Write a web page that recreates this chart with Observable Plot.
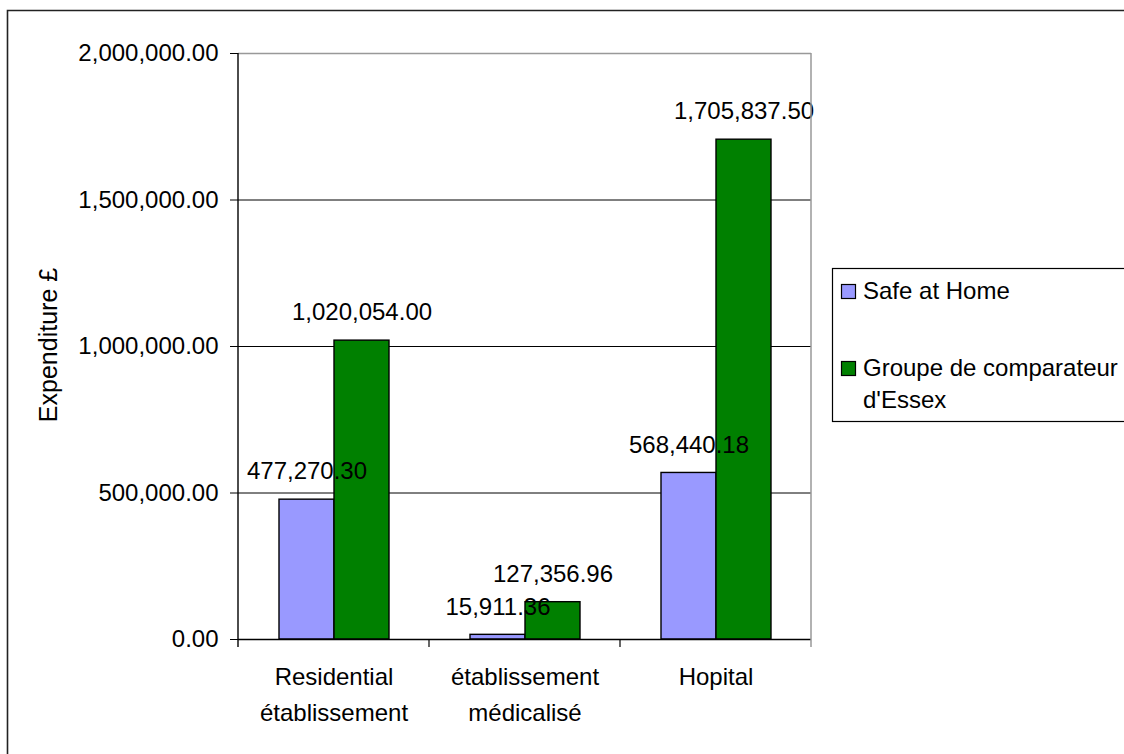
<!DOCTYPE html>
<html>
<head>
<meta charset="utf-8">
<script src="https://cdn.jsdelivr.net/npm/d3@7"></script>
<script src="https://cdn.jsdelivr.net/npm/@observablehq/plot@0.6"></script>
<style>
  html, body { margin: 0; padding: 0; background: white; }
  #chart { position: relative; width: 1124px; height: 754px; overflow: hidden; }
</style>
</head>
<body>
<div id="chart"></div>
<script>
// ---- data ----
const categories = ["Residential établissement", "établissement médicalisé", "Hopital"];
const categoryLabelLines = [["Residential", "établissement"], ["établissement", "médicalisé"], ["Hopital"]];
const series = ["Safe at Home", "Groupe de comparateur d'Essex"];
const legendLabelLines = [["Safe at Home"], ["Groupe de comparateur", "d'Essex"]];
const safeAtHome = [477270.30, 15911.36, 568440.18];
const groupeEssex = [1020054.00, 127356.96, 1705837.50];
const yTicks = [0, 500000, 1000000, 1500000, 2000000];
const gridTicks = [500000, 1000000, 1500000];
const yLabel = "Expenditure £";
const seriesColors = ["#9999ff", "#008000"];

// ---- table for Plot ----
const rows = [];
categories.forEach((c, i) => {
  rows.push({cat: c, series: series[0], value: safeAtHome[i]});
  rows.push({cat: c, series: series[1], value: groupeEssex[i]});
});
const fmt = d3.format(",.2f");
const catLabel = new Map(categories.map((c, i) => [c, categoryLabelLines[i].join("\n")]));

const W = 1124, H = 754;
const plot = Plot.plot({
  width: W,
  height: H,
  marginLeft: 237,
  marginRight: 313,
  marginTop: 53,
  marginBottom: 115,
  style: {fontSize: "24px", fontFamily: "'Liberation Sans', Arial, sans-serif", color: "black", background: "white", overflow: "visible"},
  fx: {domain: categories, padding: 0, label: null},
  x: {domain: series, paddingInner: 0, paddingOuter: 0.72, axis: null},
  y: {domain: [0, 2000000], label: null},
  color: {domain: series, range: seriesColors},
  marks: [
    Plot.ruleY(gridTicks, {stroke: "black", strokeWidth: 1}),
    Plot.ruleY([yTicks[yTicks.length - 1]], {stroke: "#999", strokeWidth: 1.5}),
    Plot.barY(rows, {fx: "cat", x: "series", y: "value", fill: "series", stroke: "black", strokeWidth: 1.4}),
    Plot.ruleY([0], {stroke: "black", strokeWidth: 1.4}),
    Plot.text(rows, {fx: "cat", x: "series", y: "value", text: d => fmt(d.value), dy: -28, lineAnchor: "middle", fill: "black"}),
    Plot.axisY({ticks: yTicks, tickFormat: fmt, tickSize: 8, tickPadding: 12, label: null, stroke: "black"}),
    Plot.axisFx({anchor: "bottom", tickSize: 0, tickPadding: 20, lineHeight: 1.5, tickFormat: d => catLabel.get(d), label: null})
  ]
});
document.getElementById("chart").appendChild(plot);

// ---- extra decorations using the plot's own scales ----
const svg = d3.select(plot);
const fxS = plot.scale("fx");
const yS = plot.scale("y");
const y0 = yS.apply(0), yTop = yS.apply(yTicks[yTicks.length - 1]);
const left = fxS.apply(categories[0]);
const right = fxS.apply(categories[categories.length - 1]) + fxS.bandwidth;
const deco = svg.append("g");
// left axis line
deco.append("line").attr("x1", left).attr("x2", left).attr("y1", yTop).attr("y2", y0 + 8)
  .attr("stroke", "black").attr("stroke-width", 1.4);
// right plot border (grey)
deco.append("line").attr("x1", right).attr("x2", right).attr("y1", yTop).attr("y2", y0 + 8)
  .attr("stroke", "#999").attr("stroke-width", 1.5);
// category boundary ticks
categories.slice(1).forEach(c => {
  const x = fxS.apply(c);
  deco.append("line").attr("x1", x).attr("x2", x).attr("y1", y0).attr("y2", y0 + 8)
    .attr("stroke", "black").attr("stroke-width", 1.2);
});
// y axis title
deco.append("text").attr("transform", `translate(57,${(y0 + yTop) / 2 - 1}) rotate(-90)`)
  .attr("text-anchor", "middle").attr("fill", "black").attr("font-size", "25px").text(yLabel);
// outer frame (left and top edges)
deco.append("path").attr("d", `M7.5,${H} V10.5 H${W}`).attr("fill", "none")
  .attr("stroke", "#222").attr("stroke-width", 1.6);
// legend
const colorS = plot.scale("color");
const lg = deco.append("g").attr("text-anchor", "start");
lg.append("rect").attr("x", 832.5).attr("y", 268.5).attr("width", 400).attr("height", 153)
  .attr("fill", "white").attr("stroke", "black").attr("stroke-width", 1.2);
const legendBaselines = [[299], [376, 408]];
colorS.domain.forEach((s, i) => {
  const b = legendBaselines[i][0];
  lg.append("rect").attr("x", 841.5).attr("y", b - 14.5).attr("width", 14).attr("height", 14)
    .attr("fill", colorS.apply(s)).attr("stroke", "black").attr("stroke-width", 1.2);
  legendLabelLines[i].forEach((line, j) => {
    lg.append("text").attr("x", 863).attr("y", legendBaselines[i][j])
      .attr("text-anchor", "start").attr("fill", "black").text(line);
  });
});
</script>
</body>
</html>
